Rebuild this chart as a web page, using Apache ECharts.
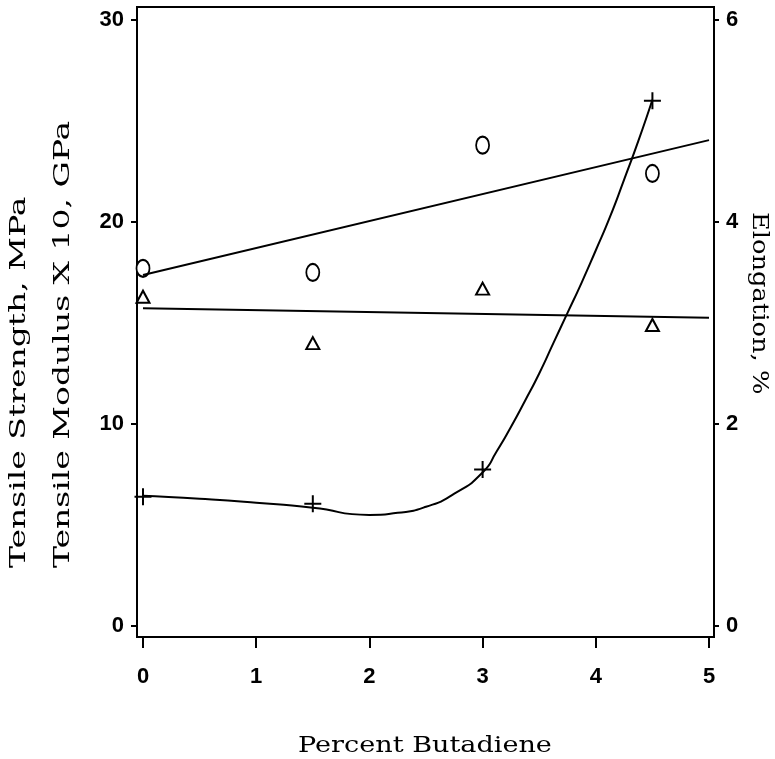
<!DOCTYPE html>
<html>
<head>
<meta charset="utf-8">
<script src="https://cdn.jsdelivr.net/npm/echarts@6/dist/echarts.min.js"></script>
<style>
  html, body { margin: 0; padding: 0; background: #fff; }
  #chart { width: 775px; height: 759px; }
</style>
</head>
<body>
<div id="chart"></div>
<script>
// measured points (percent butadiene)
const butadiene = [0, 1.5, 3, 4.5]
const strength = [17.7, 17.5, 23.8, 22.4]      // MPa, circles
const modulus = [16.3, 14.0, 16.7, 14.9]       // GPa x 10, triangles
const elongation = [1.28, 1.21, 1.55, 5.20]    // %, plus marks

// fitted lines
const lineX = [0, 5]
const strengthFit = [17.37, 24.05]
const modulusFit = [15.73, 15.26]
const elongFitX = [0, 0.5, 1.0, 1.5, 2.0, 2.25, 2.5, 2.75, 3.0, 3.125, 3.25, 3.375, 3.5, 3.625, 3.75, 3.875, 4.0, 4.125, 4.25, 4.375, 4.5]
const elongFitY = [1.29, 1.26, 1.22, 1.17, 1.10, 1.12, 1.18, 1.31, 1.52, 1.73, 1.97, 2.23, 2.50, 2.80, 3.10, 3.40, 3.72, 4.05, 4.42, 4.80, 5.21]

const xTicks = [0, 1, 2, 3, 4, 5]
const leftTicks = [0, 10, 20, 30]
const rightTicks = [0, 2, 4, 6]

const zip = (xs, ys) => xs.map((x, i) => [x, ys[i]])

const tickFont = { fontFamily: 'Liberation Sans', fontWeight: 'bold', fontSize: 22, color: '#000' }
const nameFont = '22px "DejaVu Serif"'

const chart = echarts.init(document.getElementById('chart'))
chart.setOption({
  backgroundColor: '#fff',
  animation: false,
  grid: {
    left: 137, right: 61, top: 7, bottom: 122,
    show: true, borderColor: '#000', borderWidth: 2
  },
  xAxis: {
    type: 'value',
    min: -0.053, max: 5.044,
    splitLine: { show: false },
    axisLine: { onZero: false, lineStyle: { color: '#000', width: 2 } },
    axisTick: { customValues: xTicks, length: 11, lineStyle: { color: '#000', width: 2 } },
    axisLabel: Object.assign({ customValues: xTicks, margin: 29 }, tickFont)
  },
  yAxis: [
    {
      type: 'value',
      min: -0.545, max: 30.64,
      splitLine: { show: false },
      axisLine: { show: true, onZero: false, lineStyle: { color: '#000', width: 2 } },
      axisTick: { show: true, customValues: leftTicks, length: 6, lineStyle: { color: '#000', width: 2 } },
      axisLabel: Object.assign({ customValues: leftTicks, margin: 13 }, tickFont)
    },
    {
      type: 'value',
      position: 'right',
      min: -0.109, max: 6.128,
      splitLine: { show: false },
      axisLine: { show: true, onZero: false, lineStyle: { color: '#000', width: 2 } },
      axisTick: { show: true, customValues: rightTicks, length: 5, lineStyle: { color: '#000', width: 2 } },
      axisLabel: Object.assign({ customValues: rightTicks, margin: 12 }, tickFont)
    }
  ],
  graphic: [
    {
      type: 'text', x: 19, y: 568, rotation: Math.PI / 2, scaleX: 1.5,
      style: { text: 'Tensile Strength, MPa', font: nameFont, fill: '#000', textAlign: 'left', textVerticalAlign: 'middle' }
    },
    {
      type: 'text', x: 63, y: 568, rotation: Math.PI / 2, scaleX: 1.5,
      style: { text: 'Tensile Modulus X 10, GPa', font: nameFont, fill: '#000', textAlign: 'left', textVerticalAlign: 'middle' }
    },
    {
      type: 'text', x: 759, y: 212, rotation: -Math.PI / 2, scaleX: 1.17,
      style: { text: 'Elongation, %', font: nameFont, fill: '#000', textAlign: 'left', textVerticalAlign: 'middle' }
    },
    {
      type: 'text', x: 425, y: 746, scaleX: 1.23,
      style: { text: 'Percent Butadiene', font: nameFont, fill: '#000', textAlign: 'center', textVerticalAlign: 'middle' }
    }
  ],
  series: [
    {
      name: 'strength fit', type: 'line', yAxisIndex: 0,
      data: zip(lineX, strengthFit), showSymbol: false,
      lineStyle: { color: '#000', width: 2 }
    },
    {
      name: 'modulus fit', type: 'line', yAxisIndex: 0,
      data: zip(lineX, modulusFit), showSymbol: false,
      lineStyle: { color: '#000', width: 2 }
    },
    {
      name: 'elongation fit', type: 'line', yAxisIndex: 1,
      data: zip(elongFitX, elongFitY), showSymbol: false,
      smooth: 0.6,
      lineStyle: { color: '#000', width: 2 }
    },
    {
      name: 'Tensile Strength', type: 'scatter', yAxisIndex: 0,
      data: zip(butadiene, strength),
      symbol: 'circle', symbolSize: [13, 17],
      itemStyle: { color: '#fff', borderColor: '#000', borderWidth: 2, opacity: 1 }
    },
    {
      name: 'Tensile Modulus', type: 'scatter', yAxisIndex: 0,
      data: zip(butadiene, modulus),
      symbol: 'triangle', symbolSize: [13, 12],
      itemStyle: { color: '#fff', borderColor: '#000', borderWidth: 2, opacity: 1 }
    },
    {
      name: 'Elongation', type: 'scatter', yAxisIndex: 1,
      data: zip(butadiene, elongation),
      symbol: 'path://M8,0 L8,16 M0,8 L16,8', symbolSize: [17, 17],
      itemStyle: { color: '#000', borderColor: '#000', borderWidth: 2, opacity: 1 }
    }
  ]
})
</script>
</body>
</html>
